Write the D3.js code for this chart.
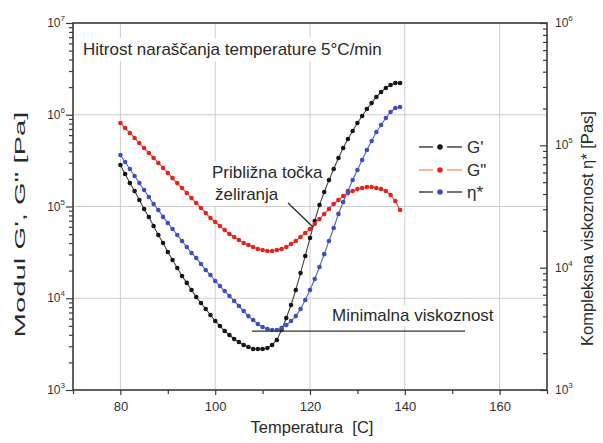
<!DOCTYPE html>
<html><head><meta charset="utf-8">
<script src="https://cdn.jsdelivr.net/npm/d3@7"></script>
<style>
html,body{margin:0;padding:0;background:#fff;}
svg{display:block;font-family:"Liberation Sans",Arial,sans-serif;}
</style></head>
<body><svg id="c" width="603" height="443"></svg>
<script>
// ---- data ----
const temperature = [80,81,82,83,84,85,86,87,88,89,90,91,92,93,94,95,96,97,98,99,100,101,102,103,104,105,106,107,108,109,110,111,112,113,114,115,116,117,118,119,120,121,122,123,124,125,126,127,128,129,130,131,132,133,134,135,136,137,138,139];
const gPrime = [2.83e5,2.26e5,1.80e5,1.475e5,1.177e5,9.39e4,7.68e4,6.13e4,4.89e4,4.00e4,3.19e4,2.61e4,2.14e4,1.75e4,1.47e4,1.23e4,1.03e4,8.87e3,7.64e3,6.57e3,5.65e3,4.98e3,4.40e3,3.98e3,3.60e3,3.34e3,3.09e3,2.94e3,2.80e3,2.80e3,2.80e3,2.87e3,3.09e3,3.51e3,4.51e3,6.09e3,8.44e3,1.23e4,1.88e4,2.89e4,4.54e4,6.95e4,1.04e5,1.44e5,1.94e5,2.56e5,3.38e5,4.34e5,5.44e5,6.65e5,8.13e5,9.69e5,1.155e6,1.34e6,1.56e6,1.77e6,1.96e6,2.11e6,2.22e6,2.22e6];
const gDoublePrime = [8.13e5,7.17e5,6.33e5,5.58e5,4.92e5,4.34e5,3.83e5,3.38e5,2.98e5,2.63e5,2.32e5,2.04e5,1.80e5,1.59e5,1.40e5,1.24e5,1.09e5,9.63e4,8.50e4,7.49e4,6.78e4,6.13e4,5.54e4,5.02e4,4.65e4,4.31e4,4.00e4,3.81e4,3.62e4,3.44e4,3.36e4,3.27e4,3.27e4,3.36e4,3.44e4,3.62e4,3.90e4,4.21e4,4.65e4,5.14e4,5.68e4,6.45e4,7.31e4,8.29e4,9.39e4,1.065e5,1.177e5,1.30e5,1.40e5,1.475e5,1.55e5,1.59e5,1.63e5,1.63e5,1.59e5,1.55e5,1.475e5,1.335e5,1.148e5,9.16e4];
const etaStar = [8.34e4,7.31e4,6.40e4,5.61e4,4.92e4,4.31e4,3.78e4,3.31e4,2.96e4,2.60e4,2.32e4,2.07e4,1.85e4,1.65e4,1.475e4,1.318e4,1.20e4,1.07e4,9.57e3,8.71e3,7.78e3,7.08e3,6.45e3,5.87e3,5.34e3,4.86e3,4.42e3,4.02e3,3.73e3,3.46e3,3.27e3,3.15e3,3.09e3,3.09e3,3.21e3,3.40e3,3.66e3,4.02e3,4.59e3,5.44e3,6.57e3,8.08e3,1.013e4,1.29e4,1.65e4,2.11e4,2.75e4,3.44e4,4.23e4,5.21e4,6.29e4,7.59e4,9.16e4,1.085e5,1.285e5,1.466e5,1.673e5,1.873e5,2.02e5,2.06e5];
const xTicks = [80,100,120,140,160];
const xMinorTicks = [70,90,110,130,150,170];
const leftExps = [3,4,5,6,7];
const rightExps = [3,4,5,6];
const titleText = "Hitrost naraščanja temperature 5°C/min";
const xLabel = "Temperatura  [C]";
const yLabelLeft = "Modul G', G\" [Pa]";
const yLabelRight = "Kompleksna viskoznost η* [Pas]";
const legendLabels = ["G'", "G\"", "η*"];
const noteGel = ["Približna točka", "želiranja"];
const noteMin = "Minimalna viskoznost";

// ---- layout ----
const L = 73, R = 547, T = 23, B = 390;
const svg = d3.select("#c");
svg.append("rect").attr("width",603).attr("height",443).attr("fill","#fff");

const x = d3.scaleLinear().domain([70,170]).range([L,R]);
const yL = d3.scaleLog().domain([1e3,1e7]).range([B,T]);
const yR = d3.scaleLog().domain([1e3,1e6]).range([B,T]);

const axisColor = "#3a3a3a", gridColor = "#cdcdcd", textColor = "#2a2a2a";

// grid
const grid = svg.append("g");
grid.selectAll("line.v").data(xTicks).join("line")
  .attr("x1",d=>x(d)).attr("x2",d=>x(d)).attr("y1",T).attr("y2",B)
  .attr("stroke",gridColor).attr("stroke-width",1);
grid.selectAll("line.h").data([1e4,1e5,1e6]).join("line")
  .attr("x1",L).attr("x2",R).attr("y1",d=>yL(d)).attr("y2",d=>yL(d))
  .attr("stroke",gridColor).attr("stroke-width",1);

// text with white background helper
function bgText(tx, ty, str, size, pad){
  const t = svg.append("text").attr("x",tx).attr("y",ty).attr("font-size",size)
    .attr("fill",textColor).text(str);
  const bb = t.node().getBBox();
  svg.insert("rect", () => t.node())
    .attr("x",bb.x-pad).attr("y",bb.y-pad+1).attr("width",bb.width+2*pad).attr("height",bb.height+2*pad-2)
    .attr("fill","#fff");
  return t;
}

// title
bgText(83, 55, titleText, 17, 3);

// annotations text
bgText(212, 178, noteGel[0], 17, 2);
bgText(215, 200, noteGel[1], 17, 3);
bgText(332, 321, noteMin, 17, 2);

// series
const series = [
  {vals:gPrime, scale:yL, dot:"#151515", line:"#444"},
  {vals:gDoublePrime, scale:yL, dot:"#e8221b", line:"#ee4a3a"},
  {vals:etaStar, scale:yR, dot:"#3b4ec4", line:"#5a64a8"}
];
series.forEach(s=>{
  const pts = temperature.map((t,i)=>[t,s.vals[i]]);
  svg.append("path").datum(pts)
    .attr("d", d3.line().x(d=>x(d[0])).y(d=>s.scale(d[1])))
    .attr("fill","none").attr("stroke",s.line).attr("stroke-width",1.1);
  svg.append("g").selectAll("circle").data(pts).join("circle")
    .attr("cx",d=>x(d[0])).attr("cy",d=>s.scale(d[1])).attr("r",2.3)
    .attr("fill",s.dot);
});

// annotation lines
svg.append("line").attr("x1",288).attr("y1",203).attr("x2",313).attr("y2",227)
  .attr("stroke","#222").attr("stroke-width",1.2);
svg.append("line").attr("x1",252).attr("x2",465).attr("y1",yR(3.09e3)+1).attr("y2",yR(3.09e3)+1)
  .attr("stroke","#333").attr("stroke-width",1.3);

// axes ticks
const minorOf = (lo,hi)=>{const a=[];for(let e=lo;e<hi;e++)for(let k=2;k<=9;k++)a.push(k*Math.pow(10,e));return a;};
const gl = svg.append("g").attr("transform",`translate(${L},0)`);
gl.call(d3.axisLeft(yL).tickValues(leftExps.map(e=>Math.pow(10,e))).tickSize(7).tickFormat(""));
gl.append("g").call(d3.axisLeft(yL).tickValues(minorOf(3,7)).tickSize(4).tickFormat(""));
const gr = svg.append("g").attr("transform",`translate(${R},0)`);
gr.call(d3.axisLeft(yR).tickValues(rightExps.map(e=>Math.pow(10,e))).tickSize(7).tickFormat(""));
gr.append("g").call(d3.axisLeft(yR).tickValues(minorOf(3,6)).tickSize(4).tickFormat(""));
const gb = svg.append("g").attr("transform",`translate(0,${B})`);
gb.call(d3.axisBottom(x).tickValues(xTicks).tickSize(5).tickFormat(d=>d).tickPadding(7));
gb.append("g").call(d3.axisBottom(x).tickValues(xMinorTicks).tickSize(4).tickFormat(""));
svg.selectAll(".domain").remove();
svg.selectAll(".tick line").attr("stroke",axisColor).attr("stroke-width",1.2);
gb.selectAll(".tick text").attr("font-size",13).attr("fill","#333")
  .attr("font-family","Liberation Sans, Arial, sans-serif");

// frame
svg.append("rect").attr("x",L).attr("y",T).attr("width",R-L).attr("height",B-T)
  .attr("fill","none").attr("stroke",axisColor).attr("stroke-width",1.6);

// power labels
function powLabel(g, tx, ty, e, anchorEnd){
  const t = g.append("text").attr("x",tx).attr("y",ty).attr("font-size",12).attr("fill","#333");
  t.append("tspan").text("10");
  t.append("tspan").attr("font-size",8).attr("dy",-6).text(e);
  if(anchorEnd) t.attr("text-anchor","end");
}
leftExps.forEach(e=>powLabel(svg, 65, yL(Math.pow(10,e))+4, e, true));
rightExps.forEach(e=>powLabel(svg, 555, yR(Math.pow(10,e))+4, e, false));

// axis titles
svg.append("text").attr("x",(L+R)/2+2).attr("y",433).attr("text-anchor","middle")
  .attr("font-size",16.5).attr("fill",textColor).attr("xml:space","preserve").style("white-space","pre").text(xLabel);
svg.append("text").attr("transform",`translate(25,${(T+B)/2+18}) rotate(-90)`).attr("text-anchor","middle")
  .attr("font-size",15.5).attr("fill",textColor)
  .attr("textLength",226).attr("lengthAdjust","spacingAndGlyphs").text(yLabelLeft);
svg.append("text").attr("transform",`translate(593,${(T+B)/2+22}) rotate(-90)`).attr("text-anchor","middle")
  .attr("font-size",16.5).attr("fill",textColor).text(yLabelRight);

// legend
const legY = [147,170,192];
const legLine = ["#444","#f4a07e","#444"];
const legDot = ["#151515","#e8221b","#3b4ec4"];
const lg = svg.append("g");
legendLabels.forEach((lab,i)=>{
  lg.append("line").attr("x1",419).attr("x2",433).attr("y1",legY[i]).attr("y2",legY[i]).attr("stroke",legLine[i]).attr("stroke-width",1.5);
  lg.append("line").attr("x1",447).attr("x2",462).attr("y1",legY[i]).attr("y2",legY[i]).attr("stroke",legLine[i]).attr("stroke-width",1.5);
  lg.append("circle").attr("cx",440).attr("cy",legY[i]).attr("r",2.8).attr("fill",legDot[i]);
  lg.append("text").attr("x",467).attr("y",legY[i]+6).attr("font-size",17).attr("fill",textColor).text(lab);
});
</script></body></html>
